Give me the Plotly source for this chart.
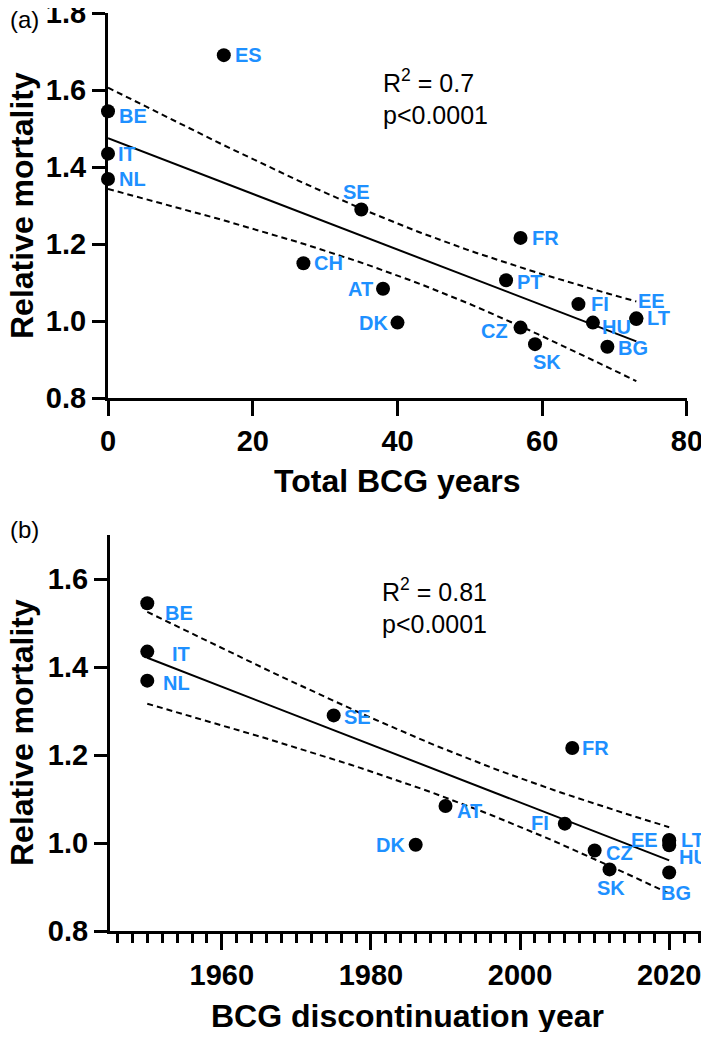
import numpy as np
import plotly.graph_objects as go

# ---------------- data ----------------
# Panel (a): total BCG years vs relative mortality
a_countries = ["BE", "IT", "NL", "ES", "CH", "SE", "AT", "DK", "PT", "FR",
               "CZ", "SK", "FI", "HU", "BG", "LT", "EE"]
a_years = [0, 0, 0, 16, 27, 35, 38, 40, 55, 57, 57, 59, 65, 67, 69, 73, 73]
a_mort = [1.545, 1.435, 1.369, 1.691, 1.150, 1.290, 1.084, 0.996, 1.106, 1.216,
          0.983, 0.940, 1.044, 0.996, 0.933, 1.007, 1.005]

# Panel (b): BCG discontinuation year vs relative mortality
b_countries = ["BE", "IT", "NL", "SE", "AT", "DK", "FR", "FI", "CZ", "SK",
               "EE", "LT", "HU", "BG"]
b_year = [1950, 1950, 1950, 1975, 1990, 1986, 2007, 2006, 2010, 2012,
          2020, 2020, 2020, 2020]
b_mort = [1.545, 1.435, 1.369, 1.290, 1.084, 0.996, 1.216, 1.044, 0.983, 0.940,
          1.005, 1.007, 0.995, 0.933]

a_xticks = [0, 20, 40, 60, 80]
a_yticks = [0.8, 1.0, 1.2, 1.4, 1.6, 1.8]
b_xticks = [1960, 1980, 2000, 2020]
b_yticks = [0.8, 1.0, 1.2, 1.4, 1.6]

a_stats = "R<sup>2</sup> = 0.7<br>p&lt;0.0001"
b_stats = "R<sup>2</sup> = 0.81<br>p&lt;0.0001"

T_CRIT_A = 2.131  # t(0.975, df=15)
T_CRIT_B = 2.179  # t(0.975, df=12)

# ---------------- styles / layout helpers ----------------
LABEL_BLUE = "#1E90FF"
FONT = "Liberation Sans, Arial, Helvetica, sans-serif"

PAGE_MARGIN = 8          # default body margin of the html page
FIG_W, FIG_H = 709 - PAGE_MARGIN, 1040 - 2 * PAGE_MARGIN


def px(x):
    """page x pixel -> paper coordinate"""
    return (x - PAGE_MARGIN) / FIG_W


def py(y):
    """page y pixel (from top) -> paper coordinate"""
    return 1 - (y - PAGE_MARGIN) / FIG_H


# label placement per country: (xanchor, xshift, yshift)
a_label_pos = {
    "ES": ("left", 9, 0), "BE": ("left", 9, -5), "IT": ("left", 8, 0),
    "NL": ("left", 9, 0), "SE": ("center", -5, 17), "FR": ("left", 9, 0),
    "CH": ("left", 9, 0), "AT": ("right", -8, 0), "DK": ("right", -8, 0),
    "PT": ("left", 9, -2), "CZ": ("right", -11, -3), "SK": ("center", 12, -18),
    "FI": ("left", 11, 0), "HU": ("left", 7, -4), "EE": ("left", 0, 18),
    "LT": ("left", 9, 0), "BG": ("left", 9, -1),
}
b_label_pos = {
    "BE": ("left", 16, -10), "IT": ("left", 23, -2), "NL": ("left", 14, -2),
    "SE": ("left", 8, -2), "AT": ("left", 9, -5), "DK": ("right", -9, 0),
    "FR": ("left", 8, 0), "FI": ("right", -14, 1), "CZ": ("left", 9, -3),
    "SK": ("center", 1, -19), "EE": ("right", -9, 1), "LT": ("left", 10, 0),
    "HU": ("left", 8, -12), "BG": ("center", 7, -21),
}


def fit_with_band(x, y, tcrit):
    x = np.asarray(x, float)
    y = np.asarray(y, float)
    n = len(x)
    slope, intercept = np.polyfit(x, y, 1)
    resid = y - (slope * x + intercept)
    s = np.sqrt(np.sum(resid ** 2) / (n - 2))
    xm = x.mean()
    sxx = np.sum((x - xm) ** 2)
    xs = np.linspace(x.min(), x.max(), 60)
    yf = slope * xs + intercept
    se = s * np.sqrt(1.0 / n + (xs - xm) ** 2 / sxx)
    return xs, yf, yf + tcrit * se, yf - tcrit * se


fig = go.Figure()

panels = [
    (a_years, a_mort, a_countries, a_label_pos, T_CRIT_A, "x", "y"),
    (b_year, b_mort, b_countries, b_label_pos, T_CRIT_B, "x2", "y2"),
]

annotations = []
for xs_, ys_, names, pos, tcrit, xa, ya in panels:
    xf, yf, yu, yl = fit_with_band(xs_, ys_, tcrit)
    for yy, dash in [(yu, "6px,4px"), (yl, "6px,4px"), (yf, "solid")]:
        fig.add_trace(go.Scatter(
            x=xf, y=yy, mode="lines", xaxis=xa, yaxis=ya,
            line=dict(color="black", width=2, dash=dash),
            hoverinfo="skip", showlegend=False))
    fig.add_trace(go.Scatter(
        x=xs_, y=ys_, mode="markers", xaxis=xa, yaxis=ya, cliponaxis=False,
        marker=dict(color="black", size=14, line=dict(width=0)),
        text=names, showlegend=False))
    for name, xv, yv in zip(names, xs_, ys_):
        anc, dx, dy = pos[name]
        annotations.append(dict(
            x=xv, y=yv, xref=xa, yref=ya, text=name, showarrow=False,
            xanchor=anc, yanchor="middle", xshift=dx, yshift=dy,
            font=dict(family=FONT, size=20, color=LABEL_BLUE, weight="bold")))

# stats text
stats_font = dict(family=FONT, size=25, color="black")
annotations.append(dict(x=px(381), y=py(63), xref="paper", yref="paper",
                        text=a_stats, showarrow=False, xanchor="left", yanchor="top",
                        align="left", font=stats_font))
annotations.append(dict(x=px(380), y=py(572), xref="paper", yref="paper",
                        text=b_stats, showarrow=False, xanchor="left", yanchor="top",
                        align="left", font=stats_font))

# panel letters
letter_font = dict(family=FONT, size=24, color="black")
annotations.append(dict(x=px(PAGE_MARGIN), y=py(19), xref="paper", yref="paper", text="(a)",
                        showarrow=False, xanchor="left", yanchor="middle", font=letter_font))
annotations.append(dict(x=px(PAGE_MARGIN), y=py(529), xref="paper", yref="paper", text="(b)",
                        showarrow=False, xanchor="left", yanchor="middle", font=letter_font))

# axis titles
title_font = dict(family=FONT, size=32, color="black", weight="bold")
annotations.append(dict(x=px(22), y=py(206), xref="paper", yref="paper",
                        text="Relative mortality", textangle=-90, showarrow=False,
                        xanchor="center", yanchor="middle", font=title_font))
annotations.append(dict(x=px(22), y=py(733), xref="paper", yref="paper",
                        text="Relative mortality", textangle=-90, showarrow=False,
                        xanchor="center", yanchor="middle", font=title_font))
annotations.append(dict(x=px(397), y=py(481), xref="paper", yref="paper",
                        text="Total BCG years", showarrow=False,
                        xanchor="center", yanchor="middle", font=title_font))
annotations.append(dict(x=px(407), y=py(1016), xref="paper", yref="paper",
                        text="BCG discontinuation year", showarrow=False,
                        xanchor="center", yanchor="middle", font=title_font))

tick_font = dict(family=FONT, size=29, color="black", weight="bold")
axis_common = dict(showline=True, linecolor="black", linewidth=3, ticks="outside",
                   tickcolor="black", tickwidth=3, showgrid=False, zeroline=False,
                   tickfont=tick_font, fixedrange=True, automargin=False,
                   ticklabeloverflow="allow")

fig.update_layout(
    template="none",
    width=FIG_W, height=FIG_H,
    margin=dict(l=0, r=0, t=0, b=0, autoexpand=False),
    paper_bgcolor="white", plot_bgcolor="white",
    showlegend=False,
    xaxis=dict(domain=[px(108), px(687)], range=[0, 80.001], tickvals=a_xticks,
               anchor="y", ticklen=15, **axis_common),
    yaxis=dict(domain=[py(398), py(13)], range=[0.8, 1.8005],
               tickvals=a_yticks, ticktext=[f"{v:.1f}" for v in a_yticks],
               anchor="x", ticklen=13, **axis_common),
    xaxis2=dict(domain=[px(110), px(702)], range=[1945, 2024.4],
                tickvals=b_xticks, anchor="y2", ticklen=16,
                minor=dict(ticks="outside", tickvals=list(range(1946, 2025, 2)),
                           ticklen=9, tickwidth=3, tickcolor="black"),
                **axis_common),
    yaxis2=dict(domain=[py(931), py(535)], range=[0.8, 1.7],
                tickvals=b_yticks, ticktext=[f"{v:.1f}" for v in b_yticks],
                anchor="x2", ticklen=13, **axis_common),
    annotations=annotations,
)

fig.write_html("out.html")
